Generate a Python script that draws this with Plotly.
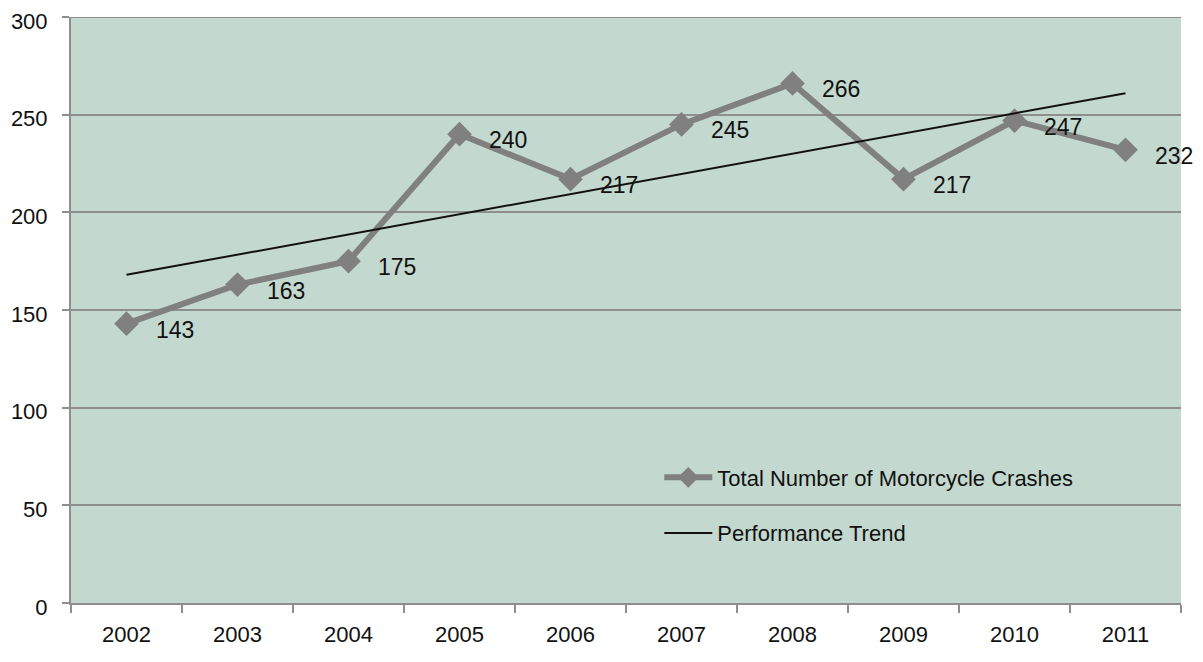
import plotly.graph_objects as go

years = ['2002', '2003', '2004', '2005', '2006', '2007', '2008', '2009', '2010', '2011']
crashes = [143, 163, 175, 240, 217, 245, 266, 217, 247, 232]
trend_years = ['2002', '2011']
trend_values = [168, 261]
y_max = 300

font_family = "'Liberation Sans', sans-serif"
grid_color = '#8e8e8e'

fig = go.Figure()
fig.add_trace(go.Scatter(
    x=years, y=crashes, mode='lines+markers',
    name='Total Number of Motorcycle Crashes',
    line=dict(color='#808080', width=6),
    marker=dict(symbol='diamond', size=19, color='#808080'),
    legendgroup='a',
))
fig.add_trace(go.Scatter(
    x=trend_years, y=trend_values, mode='lines',
    name='Performance Trend',
    line=dict(color='#111111', width=2),
    legendgroup='b',
))

# data labels to the right of each point (x as category index)
for i, v in enumerate(crashes):
    fig.add_annotation(x=i, y=v, xref='x', yref='y', text=str(v), showarrow=False,
                       xanchor='left', yanchor='middle', xshift=27, yshift=-6,
                       font=dict(size=23, color='#111111', family=font_family))

# top gridline (plotly clips the one at the range end)
fig.add_hline(y=y_max, line=dict(color=grid_color, width=2), layer='below')

# page body has an 8px margin, so the figure is a bit smaller than the window
fig.update_layout(
    width=1187, height=646,
    paper_bgcolor='white',
    plot_bgcolor='#c3d8ce',
    margin=dict(l=63, r=14, t=9, b=51),
    font=dict(family=font_family, size=22, color='#111111'),
    showlegend=True,
    legend=dict(x=0.53, y=0.25, xanchor='left', yanchor='top',
                bgcolor='rgba(0,0,0,0)', traceorder='grouped', tracegroupgap=24,
                font=dict(size=22), itemwidth=48),
)
fig.update_xaxes(
    type='category', range=[-0.5, 9.5], automargin=False,
    showline=True, linecolor=grid_color, linewidth=2,
    ticks='outside', tickson='boundaries', ticklen=8, tickcolor=grid_color, tickwidth=2,
    showgrid=False, ticklabelstandoff=11,
)
fig.update_yaxes(
    range=[0, y_max], dtick=50, automargin=False, ticklabeloverflow='allow',
    showline=True, linecolor=grid_color, linewidth=2,
    ticks='outside', ticklen=7, tickcolor=grid_color, tickwidth=2,
    showgrid=True, gridcolor=grid_color, gridwidth=2,
    zeroline=False, ticklabelstandoff=10, ticklabelshift=4,
)

fig.write_html("out.html")
